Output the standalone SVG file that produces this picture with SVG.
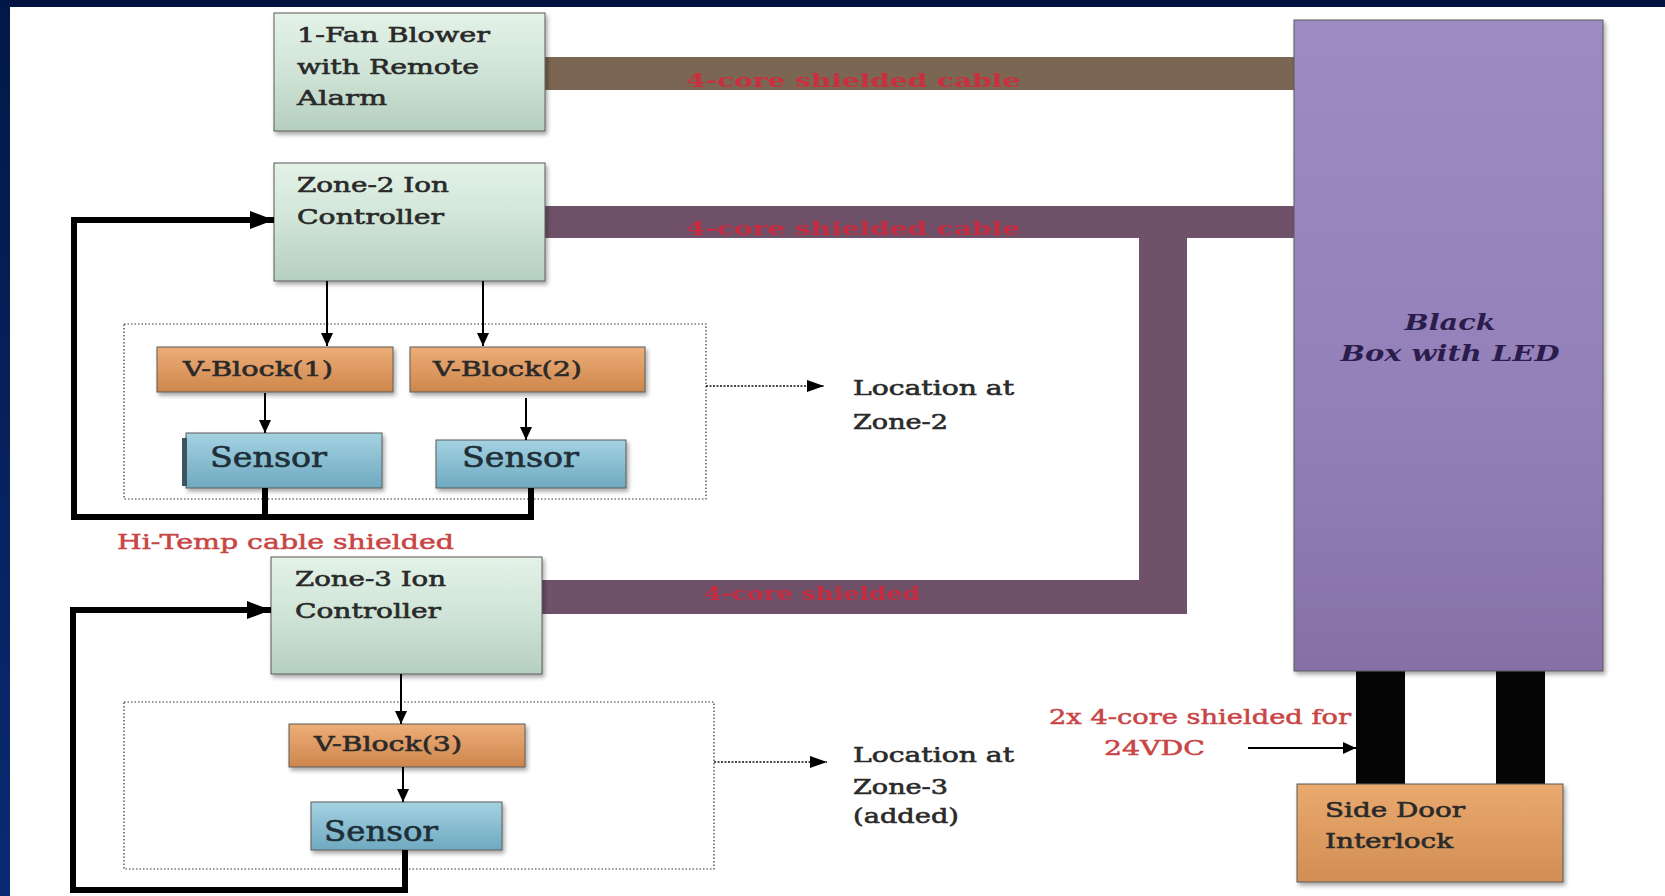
<svg xmlns="http://www.w3.org/2000/svg" width="1665" height="896" viewBox="0 0 1665 896">
<defs>
<linearGradient id="gMint" x1="0" y1="0" x2="0" y2="1"><stop offset="0" stop-color="#e4f2e8"/><stop offset="0.5" stop-color="#cfe4d6"/><stop offset="1" stop-color="#b5cfbf"/></linearGradient>
<linearGradient id="gOrange" x1="0" y1="0" x2="0" y2="1"><stop offset="0" stop-color="#eeae78"/><stop offset="1" stop-color="#cd864c"/></linearGradient>
<linearGradient id="gDoor" x1="0" y1="0" x2="0" y2="1"><stop offset="0" stop-color="#eaa96e"/><stop offset="1" stop-color="#d18e54"/></linearGradient>
<linearGradient id="gBlue" x1="0" y1="0" x2="0" y2="1"><stop offset="0" stop-color="#a4d2e2"/><stop offset="1" stop-color="#6fa9c0"/></linearGradient>
<linearGradient id="gPurple" x1="0" y1="0" x2="0" y2="1"><stop offset="0" stop-color="#9e8bc3"/><stop offset="0.6" stop-color="#9480b9"/><stop offset="1" stop-color="#8670a6"/></linearGradient>
<linearGradient id="gLeft" x1="0" y1="0" x2="0" y2="1"><stop offset="0" stop-color="#021848"/><stop offset="1" stop-color="#0a2a72"/></linearGradient>
<filter id="sh" x="-5%" y="-5%" width="115%" height="120%"><feDropShadow dx="2" dy="3" stdDeviation="2" flood-color="#000" flood-opacity="0.35"/></filter>
<marker id="aThick" markerUnits="userSpaceOnUse" markerWidth="26" markerHeight="22" refX="24" refY="11" orient="auto"><path d="M0,2 L24,11 L0,20 Z" fill="#000"/></marker>
<marker id="aThin" markerUnits="userSpaceOnUse" markerWidth="14" markerHeight="14" refX="13" refY="7" orient="auto"><path d="M0,1 L13,7 L0,13 Z" fill="#000"/></marker>
<marker id="aDot" markerUnits="userSpaceOnUse" markerWidth="18" markerHeight="14" refX="17" refY="7" orient="auto"><path d="M0,1 L17,7 L0,13 Z" fill="#000"/></marker>
</defs>
<style>
.box{stroke:#5a5a5a;stroke-width:1;filter:url(#sh)}
.t{font-family:"DejaVu Serif","Liberation Serif",serif;font-size:21px;fill:#2a2a2a;stroke:#2a2a2a;stroke-width:0.6}
.s{font-family:"DejaVu Serif","Liberation Serif",serif;font-size:28px;fill:#1f2f38;stroke:#1f2f38;stroke-width:0.6}
.r{font-family:"DejaVu Serif","Liberation Serif",serif;font-size:20px;fill:#c94545;stroke:#c94545;stroke-width:0.5}
.c{font-family:"DejaVu Serif","Liberation Serif",serif;font-weight:bold;font-size:19px;fill:#d8263a;opacity:0.85}
.bb{font-family:"DejaVu Serif","Liberation Serif",serif;font-weight:bold;font-style:italic;font-size:23px;fill:#2a1d4c}
.thick{fill:none;stroke:#000;stroke-width:6}
.thin{fill:none;stroke:#000;stroke-width:2}
.dot{fill:none;stroke:#111;stroke-width:1.6;stroke-dasharray:2,1.5}
.zone{fill:none;stroke:#333;stroke-width:1.2;stroke-dasharray:1.5,2}
</style>
<rect x="0" y="0" width="1665" height="896" fill="#ffffff"/>
<rect x="0" y="0" width="1665" height="7" fill="#021340"/>
<rect x="0" y="0" width="10" height="896" fill="url(#gLeft)"/>

<g id="cables">
<rect x="545" y="57" width="750" height="33" fill="#7a6653"/>
<rect x="545" y="206" width="750" height="32" fill="#6f5269"/>
<rect x="1139" y="206" width="48" height="408" fill="#6f5269"/>
<rect x="542" y="580" width="645" height="34" fill="#6f5269"/>
<rect x="1356" y="668" width="49" height="117" fill="#050505"/>
<rect x="1496" y="668" width="49" height="117" fill="#050505"/>
<text class="c" x="686" y="87" textLength="334" lengthAdjust="spacingAndGlyphs">4-core shielded cable</text>
<text class="c" x="686" y="235" textLength="334" lengthAdjust="spacingAndGlyphs">4-core shielded cable</text>
<text class="c" x="704" y="600" textLength="216" lengthAdjust="spacingAndGlyphs">4-core shielded</text>
</g>

<g id="zone2-area">
<rect class="zone" x="124" y="324" width="582" height="175"/>
</g>
<g id="zone3-area">
<rect class="zone" x="124" y="702" width="590" height="167"/>
</g>

<g id="fan-blower">
<rect class="box" x="274" y="13" width="271" height="118" fill="url(#gMint)"/>
<text class="t" x="297" y="42" textLength="193" lengthAdjust="spacingAndGlyphs">1-Fan Blower</text>
<text class="t" x="297" y="74" textLength="182" lengthAdjust="spacingAndGlyphs">with Remote</text>
<text class="t" x="297" y="105" textLength="90" lengthAdjust="spacingAndGlyphs">Alarm</text>
</g>

<g id="zone2-controller">
<rect class="box" x="274" y="163" width="271" height="118" fill="url(#gMint)"/>
<text class="t" x="297" y="192" textLength="152" lengthAdjust="spacingAndGlyphs">Zone-2 Ion</text>
<text class="t" x="297" y="224" textLength="147" lengthAdjust="spacingAndGlyphs">Controller</text>
</g>

<g id="vblock1">
<rect class="box" x="157" y="347" width="236" height="45" fill="url(#gOrange)"/>
<text class="t" x="183" y="376" textLength="150" lengthAdjust="spacingAndGlyphs">V-Block(1)</text>
</g>
<g id="vblock2">
<rect class="box" x="410" y="347" width="235" height="45" fill="url(#gOrange)"/>
<text class="t" x="433" y="376" textLength="149" lengthAdjust="spacingAndGlyphs">V-Block(2)</text>
</g>

<g id="sensor1">
<rect class="box" x="186" y="433" width="196" height="55" fill="url(#gBlue)"/>
<rect x="182" y="438" width="5" height="48" fill="#3d5560"/>
<text class="s" x="210" y="467" textLength="117" lengthAdjust="spacingAndGlyphs">Sensor</text>
</g>
<g id="sensor2">
<rect class="box" x="436" y="440" width="190" height="48" fill="url(#gBlue)"/>
<text class="s" x="462" y="467" textLength="117" lengthAdjust="spacingAndGlyphs">Sensor</text>
</g>

<g id="zone3-controller">
<rect class="box" x="271" y="557" width="271" height="117" fill="url(#gMint)"/>
<text class="t" x="295" y="586" textLength="151" lengthAdjust="spacingAndGlyphs">Zone-3 Ion</text>
<text class="t" x="295" y="618" textLength="146" lengthAdjust="spacingAndGlyphs">Controller</text>
</g>

<g id="vblock3">
<rect class="box" x="289" y="724" width="236" height="43" fill="url(#gOrange)"/>
<text class="t" x="314" y="751" textLength="148" lengthAdjust="spacingAndGlyphs">V-Block(3)</text>
</g>

<g id="sensor3">
<rect class="box" x="311" y="802" width="191" height="48" fill="url(#gBlue)"/>
<text class="s" x="324" y="841" textLength="114" lengthAdjust="spacingAndGlyphs">Sensor</text>
</g>

<g id="black-box">
<rect class="box" x="1294" y="20" width="309" height="651" fill="url(#gPurple)"/>
<text class="bb" x="1450" y="330" text-anchor="middle" textLength="91" lengthAdjust="spacingAndGlyphs">Black</text>
<text class="bb" x="1450" y="361" text-anchor="middle" textLength="219" lengthAdjust="spacingAndGlyphs">Box with LED</text>
</g>

<g id="side-door">
<rect class="box" x="1297" y="784" width="266" height="98" fill="url(#gDoor)"/>
<text class="t" x="1325" y="817" textLength="140" lengthAdjust="spacingAndGlyphs">Side Door</text>
<text class="t" x="1325" y="848" textLength="128" lengthAdjust="spacingAndGlyphs">Interlock</text>
</g>

<g id="labels">
<text class="t" x="853" y="395" textLength="161" lengthAdjust="spacingAndGlyphs">Location at</text>
<text class="t" x="853" y="429" textLength="95" lengthAdjust="spacingAndGlyphs">Zone-2</text>
<text class="t" x="853" y="762" textLength="161" lengthAdjust="spacingAndGlyphs">Location at</text>
<text class="t" x="853" y="794" textLength="95" lengthAdjust="spacingAndGlyphs">Zone-3</text>
<text class="t" x="853" y="823" textLength="106" lengthAdjust="spacingAndGlyphs">(added)</text>
<text class="r" x="117" y="549" textLength="337" lengthAdjust="spacingAndGlyphs">Hi-Temp cable shielded</text>
<text class="r" x="1049" y="724" textLength="302" lengthAdjust="spacingAndGlyphs">2x 4-core shielded for</text>
<text class="r" x="1104" y="755" textLength="101" lengthAdjust="spacingAndGlyphs">24VDC</text>
</g>

<g id="connectors">
<path class="thick" d="M265,488 V517"/>
<path class="thick" d="M531,488 V517 H74 V220 H274" marker-end="url(#aThick)"/>
<path class="thick" d="M405,850 V890 H73 V610 H271" marker-end="url(#aThick)"/>
<path class="thin" d="M327,281 V346" marker-end="url(#aThin)"/>
<path class="thin" d="M483,281 V346" marker-end="url(#aThin)"/>
<path class="thin" d="M265,393 V433" marker-end="url(#aThin)"/>
<path class="thin" d="M526,398 V440" marker-end="url(#aThin)"/>
<path class="thin" d="M401,674 V724" marker-end="url(#aThin)"/>
<path class="thin" d="M403,767 V802" marker-end="url(#aThin)"/>
<path class="thin" d="M1248,748 H1356" marker-end="url(#aThin)"/>
<path class="dot" d="M706,386 H824" marker-end="url(#aDot)"/>
<path class="dot" d="M714,762 H827" marker-end="url(#aDot)"/>
</g>
</svg>
